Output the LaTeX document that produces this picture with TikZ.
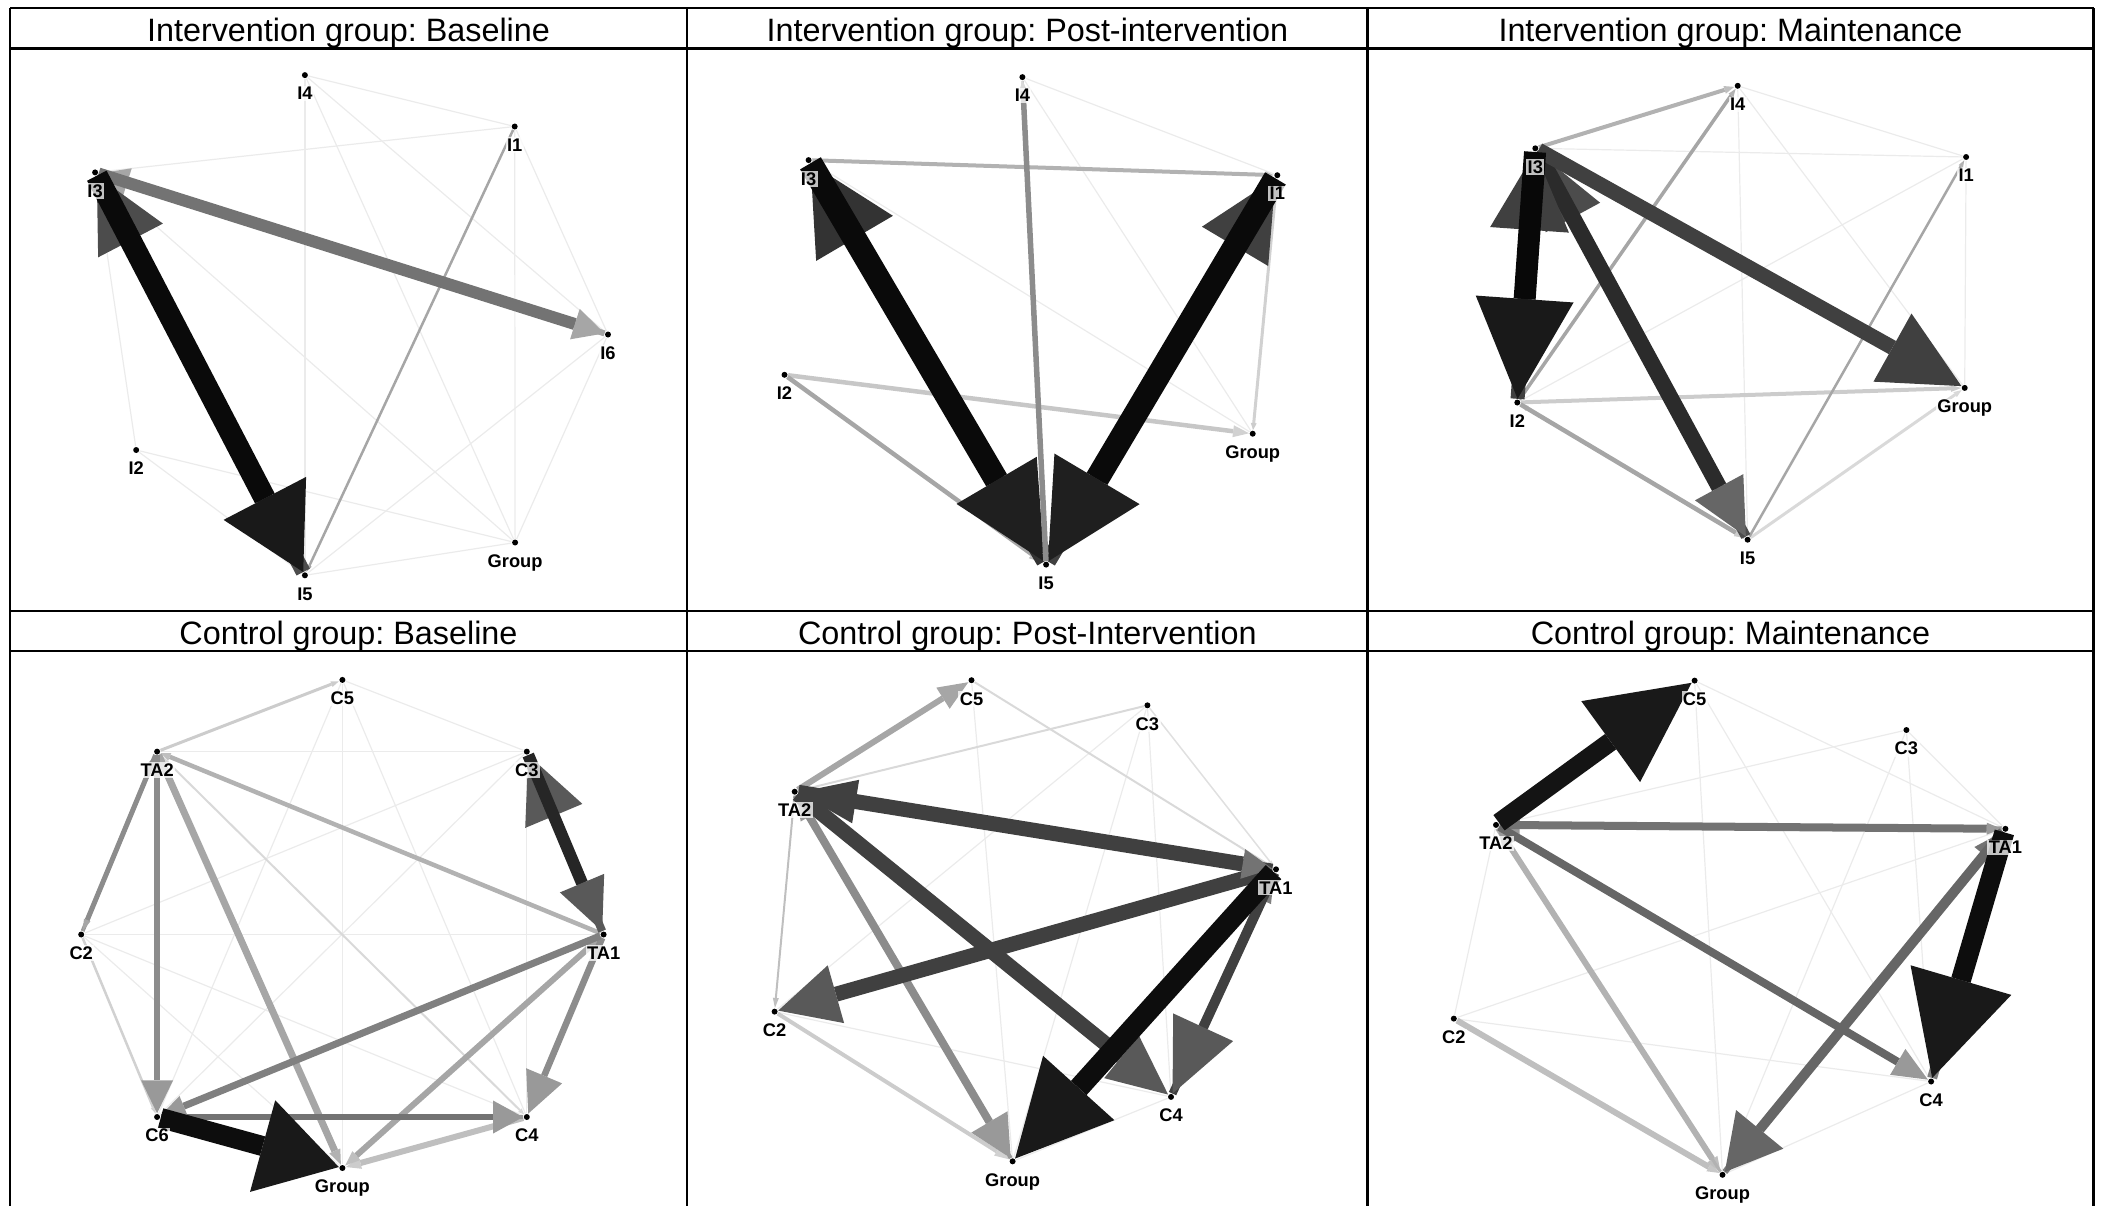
\documentclass[tikz,border=0pt]{standalone}
\usepackage{fontspec}
\setmainfont{Liberation Sans}
\usetikzlibrary{arrows.meta}
\usetikzlibrary{positioning}
\frenchspacing

\pgfdeclarelayer{dots}
\pgfdeclarelayer{edges}
\pgfsetlayers{dots,edges,main}

\tikzset{
  vertex/.style={circle, fill=black, inner sep=0pt, minimum size=1.7pt},
  vlabel/.style={font=\fontsize{5.2}{6}\selectfont\bfseries, inner sep=0.4pt, fill=white, fill opacity=0.75, text opacity=1},
  title/.style={font=\fontsize{9.2}{11}\selectfont, anchor=base},
  rule/.style={line width=0.027cm},
  faint/.style={draw=black!8, line width=0.012cm},
}

% dot with its name below
\newcommand{\netnode}[3]{%
  \begin{pgfonlayer}{dots}\node[vertex] (#1) at (#2) {};\end{pgfonlayer}
  \node[vlabel, below=1.8pt of #1] (#1-l) {#3};}
% from, to, line colour, width, head colour, head length, head width
\newcommand{\netedge}[7]{\draw[draw=#3, line width=#4cm,
  -{Triangle[length=#6cm, width=#7cm, line width=0pt, color=#5]}] (#1) -- (#2);}
\newcommand{\netfaint}[2]{\draw[faint] (#1) -- (#2);}

\begin{document}
\begin{tikzpicture}[x=0.01cm, y=-0.01cm]
\useasboundingbox (0,0) rectangle (2103,1205);

% table
\draw[rule] (10,8) -- (2093.5,8);
\draw[rule] (10,48.5) -- (2093.5,48.5);
\draw[rule] (10,611) -- (2093.5,611);
\draw[rule] (10,651) -- (2093.5,651);
\draw[rule] (10,8) -- (10,1210);
\draw[rule] (687,8) -- (687,1210);
\draw[rule] (1367.5,8) -- (1367.5,1210);
\draw[rule] (2093.5,8) -- (2093.5,1210);

\node[title] (hA) at (348.5,41) {Intervention group: Baseline};
\node[title] (hB) at (1027.3,41) {Intervention group: Post-intervention};
\node[title] (hC) at (1730.5,41) {Intervention group: Maintenance};
\node[title] (hD) at (348.5,644.5) {Control group: Baseline};
\node[title] (hE) at (1027.3,644.5) {Control group: Post-Intervention};
\node[title] (hF) at (1730.5,644.5) {Control group: Maintenance};

% intervention: baseline
\netnode{aI4}{304.9,75.1}{I4}
\netnode{aI1}{514.7,126.5}{I1}
\netnode{aI3}{95.1,172.4}{I3}
\netnode{aI6}{608,334.5}{I6}
\netnode{aI2}{136.2,450}{I2}
\netnode{aG}{515.1,542.5}{Group}
\netnode{aI5}{304.9,575.3}{I5}
\begin{pgfonlayer}{edges}
\netfaint{aI4}{aI1} \netfaint{aI4}{aI5} \netfaint{aI4}{aI6} \netfaint{aI4}{aG}
\netfaint{aI1}{aI3} \netfaint{aI1}{aI6} \netfaint{aI1}{aG} \netfaint{aI6}{aG}
\netfaint{aI6}{aI5} \netfaint{aI3}{aG} \netfaint{aI2}{aI3} \netfaint{aI2}{aI5}
\netfaint{aI2}{aG} \netfaint{aG}{aI5}
\netedge{aI1}{aI5}{black!35}{0.025}{black!35}{0.07}{0.05}
\netedge{aI6}{aI3}{black!35}{0.06}{black!35}{0.3}{0.3}
\netedge{aI3}{aI6}{black!55}{0.12}{black!35}{0.31}{0.32}
\netedge{aI5}{aI3}{black!70}{0.15}{black!70}{0.73}{0.73}
\netedge{aI3}{aI5}{black!96}{0.22}{black!90}{0.83}{0.93}
\end{pgfonlayer}

% intervention: post
\netnode{bI4}{1022.4,77.1}{I4}
\netnode{bI3}{808.6,160.1}{I3}
\netnode{bI1}{1277.3,175.2}{I1}
\netnode{bI2}{784.5,374.8}{I2}
\netnode{bG}{1252.7,433.7}{Group}
\netnode{bI5}{1046.1,564.6}{I5}
\begin{pgfonlayer}{edges}
\netfaint{bI4}{bI1} \netfaint{bI4}{bG} \netfaint{bI3}{bG}
\netedge{bI1}{bG}{black!18}{0.03}{black!20}{0.07}{0.06}
\netedge{bI2}{bG}{black!22}{0.045}{black!18}{0.16}{0.12}
\netedge{bI2}{bI5}{black!35}{0.045}{black!25}{0.14}{0.1}
\netedge{bI3}{bI1}{black!30}{0.04}{black!25}{0.08}{0.07}
\netedge{bI5}{bI3}{black!80}{0.16}{black!80}{0.87}{0.89}
\netedge{bI5}{bI1}{black!75}{0.16}{black!75}{0.79}{0.77}
\netedge{bI3}{bI5}{black!96}{0.24}{black!88}{0.94}{0.93}
\netedge{bI1}{bI5}{black!96}{0.24}{black!88}{0.96}{0.99}
\netedge{bI4}{bI5}{black!20}{0.025}{black!15}{0.08}{0.06}
\netedge{bI5}{bI4}{black!45}{0.055}{black!15}{0.1}{0.08}
\end{pgfonlayer}

% intervention: maintenance
\netnode{cI4}{1737.7,85.8}{I4}
\netnode{cI3}{1535.3,148.3}{I3}
\netnode{cI1}{1966.1,157}{I1}
\netnode{cG}{1964.7,387.9}{Group}
\netnode{cI2}{1517.3,402.5}{I2}
\netnode{cI5}{1747.6,539.7}{I5}
\begin{pgfonlayer}{edges}
\netfaint{cI3}{cI1} \netfaint{cI4}{cI1} \netfaint{cI4}{cI5} \netfaint{cI4}{cG}
\netfaint{cI1}{cG} \netfaint{cI2}{cI1}
\netedge{cI5}{cG}{black!15}{0.03}{black!15}{0.08}{0.06}
\netedge{cI2}{cG}{black!20}{0.04}{black!20}{0.1}{0.07}
\netedge{cI5}{cI1}{black!35}{0.025}{black!30}{0.07}{0.05}
\netedge{cI2}{cI4}{black!35}{0.035}{black!30}{0.08}{0.06}
\netedge{cI3}{cI4}{black!30}{0.04}{black!25}{0.1}{0.08}
\netedge{cI5}{cI2}{black!25}{0.025}{black!20}{0.08}{0.06}
\netedge{cI2}{cI5}{black!35}{0.045}{black!20}{0.1}{0.08}
\netedge{cI5}{cI3}{black!70}{0.1}{black!70}{0.75}{0.62}
\netedge{cI3}{cI5}{black!83}{0.16}{black!60}{0.56}{0.55}
\netedge{cI3}{cG}{black!75}{0.15}{black!75}{0.79}{0.78}
\netedge{cI2}{cI3}{black!75}{0.14}{black!75}{0.78}{0.79}
\netedge{cI3}{cI2}{black!97}{0.22}{black!90}{1.0}{0.98}
\end{pgfonlayer}

% control: baseline
\netnode{dC5}{342.4,679.9}{C5}
\netnode{dTA2}{157.1,751.6}{TA2}
\netnode{dC3}{526.8,751.6}{C3}
\netnode{dC2}{81.2,934.5}{C2}
\netnode{dTA1}{603.6,934.5}{TA1}
\netnode{dC6}{157.1,1117}{C6}
\netnode{dC4}{526.8,1117}{C4}
\netnode{dG}{342.4,1168}{Group}
\begin{pgfonlayer}{edges}
\netfaint{dC5}{dC6} \netfaint{dC5}{dC4} \netfaint{dC5}{dG} \netfaint{dC5}{dC3}
\netfaint{dC3}{dTA2} \netfaint{dC3}{dC6} \netfaint{dC3}{dC4} \netfaint{dC2}{dTA1}
\netfaint{dC2}{dC4} \netfaint{dC2}{dG} \netfaint{dC2}{dC3}
\netedge{dC2}{dC6}{black!18}{0.025}{black!18}{0.07}{0.05}
\netedge{dTA2}{dC5}{black!20}{0.03}{black!20}{0.08}{0.06}
\netedge{dTA2}{dC4}{black!15}{0.02}{black!15}{0.06}{0.05}
\netedge{dC4}{dG}{black!25}{0.06}{black!20}{0.15}{0.12}
\netedge{dTA1}{dTA2}{black!30}{0.045}{black!25}{0.1}{0.08}
\netedge{dTA1}{dG}{black!35}{0.06}{black!25}{0.15}{0.12}
\netedge{dTA2}{dG}{black!35}{0.07}{black!30}{0.15}{0.12}
\netedge{dC2}{dTA2}{black!40}{0.04}{black!40}{0.12}{0.09}
\netedge{dTA2}{dC2}{black!45}{0.05}{black!35}{0.12}{0.07}
\netedge{dTA2}{dC6}{black!45}{0.065}{black!40}{0.33}{0.32}
\netedge{dTA1}{dC4}{black!45}{0.065}{black!40}{0.41}{0.39}
\netedge{dC4}{dC6}{black!40}{0.04}{black!35}{0.22}{0.2}
\netedge{dC6}{dC4}{black!55}{0.065}{black!40}{0.3}{0.33}
\netedge{dTA1}{dC6}{black!50}{0.07}{black!40}{0.25}{0.22}
\netedge{dTA1}{dC3}{black!65}{0.08}{black!65}{0.66}{0.62}
\netedge{dC3}{dTA1}{black!85}{0.12}{black!65}{0.52}{0.48}
\netedge{dC6}{dG}{black!95}{0.2}{black!90}{0.79}{0.95}
\end{pgfonlayer}

% control: post
\netnode{eC5}{971.5,680.2}{C5}
\netnode{eC3}{1147.4,705.3}{C3}
\netnode{eTA2}{794.7,791.7}{TA2}
\netnode{eTA1}{1276,869.3}{TA1}
\netnode{eC2}{774.6,1011.6}{C2}
\netnode{eC4}{1171,1096.9}{C4}
\netnode{eG}{1012.6,1161.3}{Group}
\begin{pgfonlayer}{edges}
\netfaint{eC3}{eC4} \netfaint{eC3}{eG} \netfaint{eC5}{eG} \netfaint{eC2}{eC4}
\netfaint{eC4}{eG} \netfaint{eC3}{eC2}
\netedge{eC3}{eTA1}{black!12}{0.015}{black!12}{0.06}{0.04}
\netedge{eC5}{eTA1}{black!15}{0.02}{black!15}{0.07}{0.05}
\netedge{eC3}{eTA2}{black!15}{0.02}{black!15}{0.07}{0.05}
\netedge{eC2}{eG}{black!20}{0.04}{black!18}{0.15}{0.1}
\netedge{eTA2}{eC2}{black!25}{0.02}{black!25}{0.1}{0.06}
\netedge{eTA2}{eC5}{black!35}{0.06}{black!35}{0.3}{0.25}
\netedge{eG}{eTA2}{black!40}{0.04}{black!40}{0.25}{0.2}
\netedge{eTA2}{eG}{black!45}{0.08}{black!40}{0.42}{0.42}
\netedge{eC4}{eTA1}{black!75}{0.08}{black!50}{0.3}{0.2}
\netedge{eTA1}{eC4}{black!75}{0.1}{black!65}{0.73}{0.66}
\netedge{eTA1}{eC2}{black!75}{0.15}{black!65}{0.6}{0.6}
\netedge{eTA1}{eTA2}{black!75}{0.1}{black!75}{0.58}{0.44}
\netedge{eTA2}{eTA1}{black!75}{0.15}{black!55}{0.3}{0.3}
\netedge{eTA2}{eC4}{black!75}{0.15}{black!65}{0.6}{0.55}
\netedge{eTA1}{eG}{black!95}{0.21}{black!90}{0.95}{0.96}
\end{pgfonlayer}

% control: maintenance
\netnode{fC5}{1694.6,680.6}{C5}
\netnode{fC3}{1906.4,730}{C3}
\netnode{fTA2}{1496,824.9}{TA2}
\netnode{fTA1}{2005.4,828.8}{TA1}
\netnode{fC2}{1453.8,1018.6}{C2}
\netnode{fC4}{1931.1,1081.5}{C4}
\netnode{fG}{1722.5,1174.8}{Group}
\begin{pgfonlayer}{edges}
\netfaint{fTA2}{fC2} \netfaint{fC2}{fTA1} \netfaint{fC2}{fC4} \netfaint{fC5}{fTA1}
\netfaint{fC5}{fC4} \netfaint{fC5}{fG} \netfaint{fC3}{fTA2} \netfaint{fC3}{fTA1}
\netfaint{fC3}{fC4} \netfaint{fC3}{fG} \netfaint{fC4}{fG}
\netedge{fC2}{fG}{black!25}{0.06}{black!22}{0.12}{0.1}
\netedge{fTA2}{fG}{black!30}{0.06}{black!25}{0.15}{0.12}
\netedge{fG}{fTA2}{black!30}{0.03}{black!40}{0.2}{0.15}
\netedge{fTA1}{fTA2}{black!40}{0.05}{black!40}{0.2}{0.18}
\netedge{fTA2}{fTA1}{black!55}{0.08}{black!40}{0.15}{0.12}
\netedge{fTA2}{fC4}{black!60}{0.08}{black!40}{0.35}{0.3}
\netedge{fG}{fTA1}{black!50}{0.06}{black!55}{0.3}{0.25}
\netedge{fTA1}{fG}{black!60}{0.1}{black!60}{0.55}{0.61}
\netedge{fC4}{fTA1}{black!50}{0.1}{black!50}{0.3}{0.2}
\netedge{fTA1}{fC4}{black!95}{0.2}{black!90}{1.02}{1.05}
\netedge{fTA2}{fC5}{black!92}{0.19}{black!90}{1.0}{1.0}
\end{pgfonlayer}
\end{tikzpicture}
\end{document}
